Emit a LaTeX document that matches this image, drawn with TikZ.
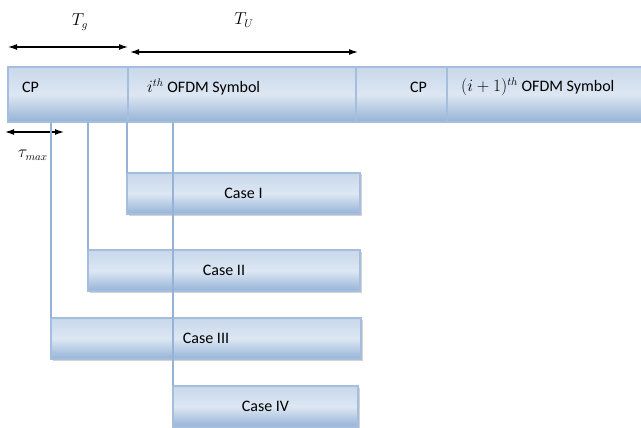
\documentclass[tikz,border=0pt]{standalone}
\usepackage{fontspec}
\setmainfont{Carlito}
\usepackage{tikz}
\usetikzlibrary{arrows.meta,positioning,shadows}

\definecolor{barlight}{RGB}{221,231,243}
\definecolor{bardark}{RGB}{149,179,215}

\begin{document}
\begin{tikzpicture}[
  x=1pt, y=-1pt,
  font=\fontsize{16}{19}\selectfont,
  >={Latex[length=9pt,width=6pt]},
  seg/.style={draw=bardark!85!white, line width=1.2pt, anchor=north west, inner sep=0pt, outer sep=0pt,
    minimum height=55pt, top color=barlight!70!bardark, bottom color=bardark, middle color=barlight},
  casebox/.style={seg, minimum height=41pt, drop shadow={opacity=0.35, shadow xshift=1.5pt, shadow yshift=-1.5pt}},
  txt/.style={inner sep=0pt, anchor=west},
  tick/.style={draw=bardark, line width=1.6pt},
  span/.style={<->, line width=1.2pt}
]
\useasboundingbox (0,0) rectangle (641,428);

% the symbol stream
\node[seg, minimum width=120pt] (cp1) at (8,67) {};
\node[seg, minimum width=228pt, right=0pt of cp1] (sym1) {};
\node[seg, minimum width=91pt, right=0pt of sym1] (cp2) {};
\node[seg, minimum width=210pt, right=0pt of cp2] (sym2) {};

\node[txt] (cplbl) at (22,87) {CP};
\node[txt] (symlbl) at (147,87) {$i^{th}$ OFDM Symbol};
\node[txt] (cplbl2) at (410,87) {CP};
\node[txt] (symlbl2) at (461,87) {$(i+1)^{th}$ OFDM Symbol};

% durations
\coordinate (tg0) at (8,47);
\coordinate (tg1) at (128,47);
\coordinate (tu0) at (130,52);
\coordinate (tu1) at (358,52);
\coordinate (tau0) at (5,132);
\coordinate (tau1) at (64,132);
\draw[span] (tg0) -- (tg1);
\draw[span] (tu0) -- (tu1);
\draw[span] (tau0) -- (tau1);
\node (tglbl) at (80,22) {$T_g$};
\node (tulbl) at (244,20) {$T_U$};
\node (taulbl) at (33,155) {$\tau_{max}$};

% delayed copies
\node[casebox, minimum width=233pt] (case1) at (127,173) {Case I};
\node[casebox, minimum width=272pt] (case2) at (88,250) {Case II};
\node[casebox, minimum width=310pt] (case3) at (51,318) {Case III};
\node[casebox, minimum width=185pt] (case4) at (173,386) {Case IV};

\draw[tick] (case1.north west |- sym1.south) -- (case1.north west);
\draw[tick] (case2.north west |- cp1.south) -- (case2.north west);
\draw[tick] (case3.north west |- cp1.south) -- (case3.north west);
\draw[tick] (case4.north west |- sym1.south) -- (case4.north west);
\end{tikzpicture}
\end{document}
